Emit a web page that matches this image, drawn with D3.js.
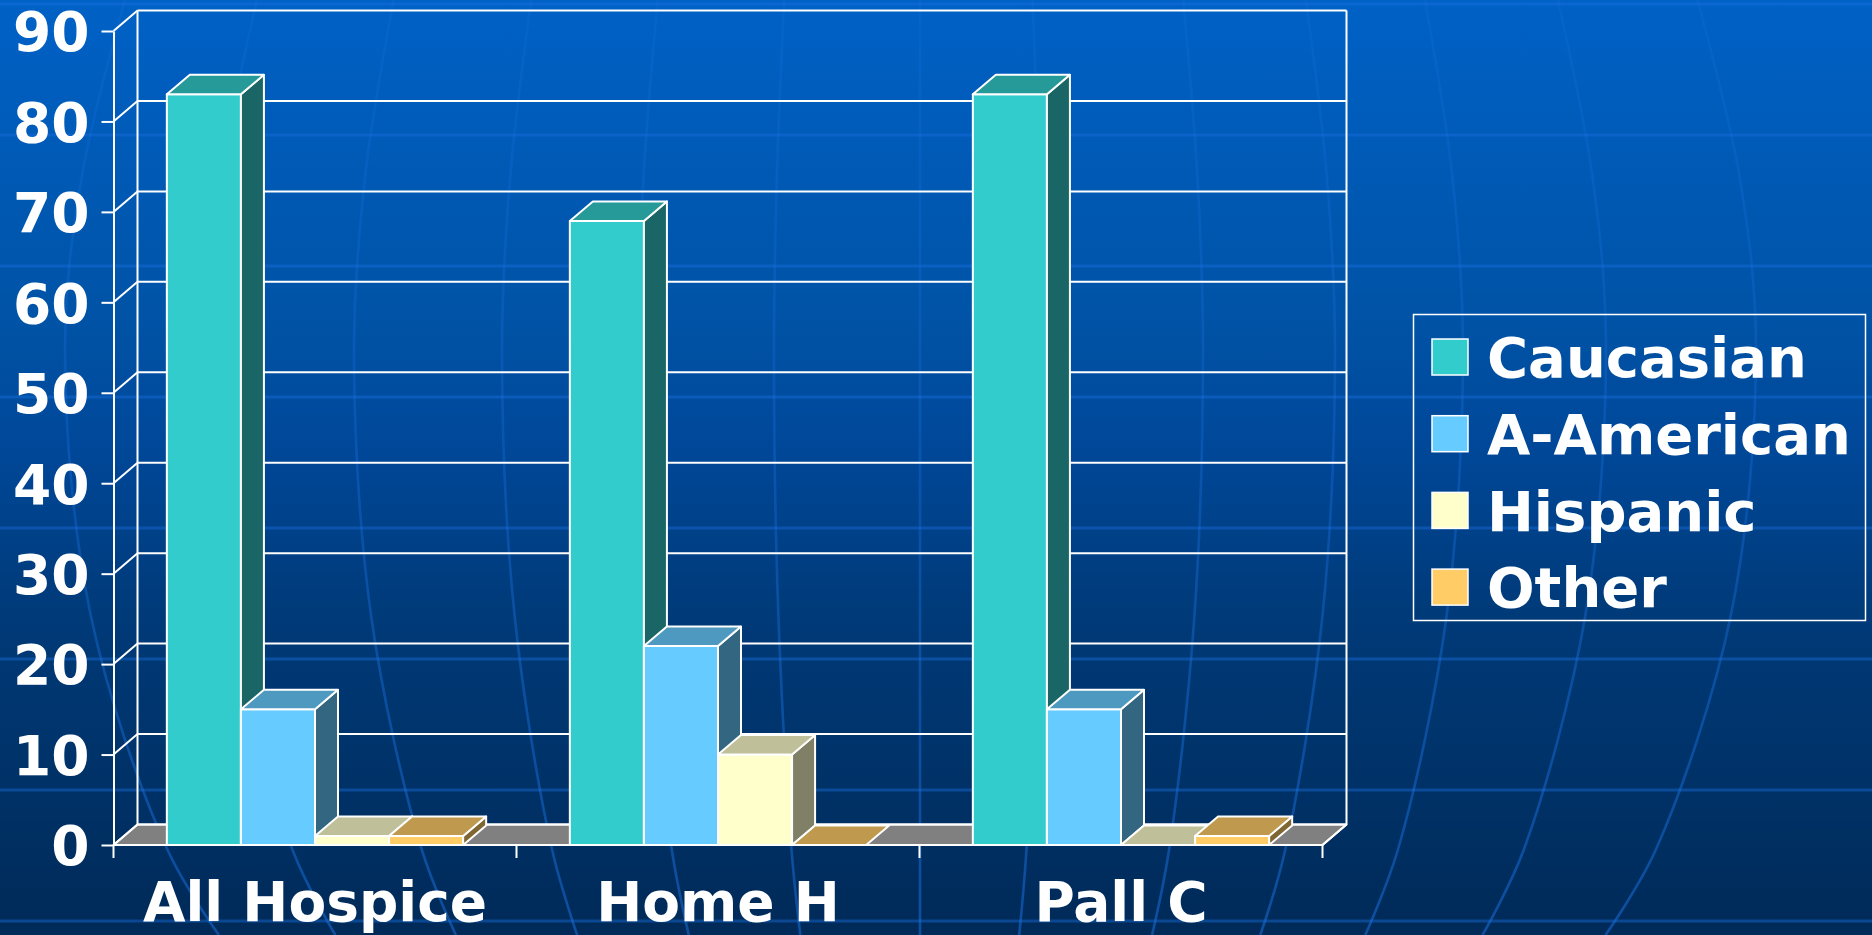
<!DOCTYPE html>
<html>
<head>
<meta charset="utf-8">
<script src="https://cdn.jsdelivr.net/npm/d3@7"></script>
<style>
  html, body { margin: 0; padding: 0; overflow: hidden; background: #003a78; }
  svg { display: block; }
  text { font-family: "DejaVu Sans", Verdana, sans-serif; font-weight: bold; fill: #ffffff; }
</style>
</head>
<body>
<svg id="chart" width="1872" height="935"></svg>
<script>
// ---- data ----
const categories = ["All Hospice", "Home H", "Pall C"];
const seriesNames = ["Caucasian", "A-American", "Hispanic", "Other"];
const caucasian = [83, 69, 83];
const aAmerican = [15, 22, 15];
const hispanic = [1, 10, 0];
const other = [1, 0, 1];
const yTicks = [0, 10, 20, 30, 40, 50, 60, 70, 80, 90];

// ---- styling ----
const seriesValues = [caucasian, aAmerican, hispanic, other];
const seriesColors = ["#33CCCC", "#66CCFF", "#FFFFCC", "#FFCC66"];

// background globe pattern (decoration)
const bandLineY = [4, 135, 266, 397, 528, 659, 790, 921];
const meridianOffsets = [-855, -713, -566, -418, -282, -146, 0, 121, 283, 415, 543, 686, 836];
const meridianProfile = [[0, 0.93], [175, 0.98], [350, 1.0], [615, 0.97], [850, 0.88], [935, 0.82]];
const meridianCenter = 920;

const W = 1872, H = 935;
const svg = d3.select("#chart");
const defs = svg.append("defs");
const grad = defs.append("linearGradient").attr("id", "bg")
  .attr("x1", 0).attr("y1", 0).attr("x2", 0).attr("y2", 1);
[[0, "#0061c6"], [0.34, "#0053a6"], [0.47, "#00489a"], [0.66, "#003a78"], [1, "#002a58"]]
  .forEach(([o, c]) => grad.append("stop").attr("offset", o).attr("stop-color", c));

const mGrad = defs.append("linearGradient").attr("id", "meridianStroke")
  .attr("gradientUnits", "userSpaceOnUse").attr("x1", 0).attr("y1", 0).attr("x2", 0).attr("y2", H);
[[0, 0.2], [0.45, 0.32], [1, 0.52]]
  .forEach(([o, a]) => mGrad.append("stop").attr("offset", o).attr("stop-color", "#1a70e0").attr("stop-opacity", a));

svg.append("rect").attr("width", W).attr("height", H).attr("fill", "url(#bg)");

const bgLines = svg.append("g");
bgLines.selectAll("line").data(bandLineY).join("line")
  .attr("x1", 0).attr("x2", W).attr("y1", d => d).attr("y2", d => d)
  .attr("stroke", "#1a70e0").attr("stroke-opacity", 0.42).attr("stroke-width", 3);

const meridian = d3.line().curve(d3.curveCatmullRom);
bgLines.selectAll("path").data(meridianOffsets).join("path")
  .attr("d", off => meridian(meridianProfile.map(([py, f]) => [meridianCenter + off * f, py])))
  .attr("fill", "none").attr("stroke", "url(#meridianStroke)").attr("stroke-width", 2.6);

// ---- scales ----
const y = d3.scaleLinear().domain([0, 90]).range([845, 31]);
const x0 = d3.scaleBand().domain(categories).range([113.5, 1322.5]);
const x1 = d3.scaleBand().domain(seriesNames).range([0, x0.bandwidth()]).paddingOuter(0.72);

const DX = 24, DY = -20.5;          // depth of the plot box
const BDX = 23, BDY = -19.5;        // depth of a bar
const left = x0.range()[0], right = x0.range()[1];

const wall = svg.append("g").attr("stroke", "#ffffff").attr("stroke-width", 2).attr("fill", "none");

// floor
wall.append("path")
  .attr("d", `M${left},${y(0)} L${right},${y(0)} L${right + DX},${y(0) + DY} L${left + DX},${y(0) + DY} Z`)
  .attr("fill", "#808080").attr("stroke-linejoin", "round");

// back wall gridlines + side wall lines
yTicks.forEach(v => {
  wall.append("line").attr("x1", left).attr("y1", y(v)).attr("x2", left + DX).attr("y2", y(v) + DY);
  wall.append("line").attr("x1", left + DX).attr("y1", y(v) + DY).attr("x2", right + DX).attr("y2", y(v) + DY);
});
wall.append("line").attr("x1", left + DX).attr("x2", left + DX).attr("y1", y(0) + DY).attr("y2", y(90) + DY);
wall.append("line").attr("x1", right + DX).attr("x2", right + DX).attr("y1", y(0) + DY).attr("y2", y(90) + DY);

// ---- bars ----
const shade = (c, k) => { const o = d3.rgb(c); return d3.rgb(o.r * k, o.g * k, o.b * k).formatHex(); };
const barsG = svg.append("g").attr("stroke", "#ffffff").attr("stroke-width", 2).attr("stroke-linejoin", "round");

categories.forEach((cat, ci) => {
  seriesNames.forEach((s, si) => {
    const v = seriesValues[si][ci];
    const xl = x0(cat) + x1(s), xr = xl + x1.bandwidth();
    const yt = y(v), yb = y(0);
    const col = seriesColors[si];
    const g = barsG.append("g");
    if (v > 0) {
      g.append("rect").attr("x", xl).attr("y", yt).attr("width", xr - xl).attr("height", yb - yt).attr("fill", col);
      g.append("path").attr("fill", shade(col, 0.5))
        .attr("d", `M${xr},${yt} L${xr + BDX},${yt + BDY} L${xr + BDX},${yb + BDY} L${xr},${yb} Z`);
    }
    g.append("path").attr("fill", shade(col, 0.75))
      .attr("d", `M${xl},${yt} L${xr},${yt} L${xr + BDX},${yt + BDY} L${xl + BDX},${yt + BDY} Z`);
  });
});

// ---- axes ----
const yAxis = svg.append("g").attr("transform", `translate(${left},0)`)
  .call(d3.axisLeft(y).tickValues(yTicks).tickSize(12).tickSizeOuter(0).tickPadding(12));
yAxis.attr("font-family", null);
yAxis.select(".domain").attr("stroke", "#ffffff").attr("stroke-width", 2);
yAxis.selectAll(".tick line").attr("stroke", "#ffffff").attr("stroke-width", 2);
yAxis.selectAll(".tick text").attr("font-size", 55).attr("fill", "#ffffff").attr("dy", "0.36em");

// front floor edge and category separators
const xEdge = svg.append("g").attr("stroke", "#ffffff").attr("stroke-width", 2);
xEdge.append("line").attr("x1", left).attr("x2", right).attr("y1", y(0)).attr("y2", y(0));
xEdge.append("line").attr("x1", right).attr("y1", y(0)).attr("x2", right + DX).attr("y2", y(0) + DY);
categories.map(c => x0(c)).concat([right]).forEach(xx => {
  xEdge.append("line").attr("x1", xx).attr("x2", xx).attr("y1", y(0)).attr("y2", y(0) + 13);
});

const xAxis = svg.append("g").attr("transform", `translate(0,${y(0)})`)
  .call(d3.axisBottom(x0).tickSize(0).tickPadding(0));
xAxis.select(".domain").remove();
xAxis.attr("font-family", null);
xAxis.selectAll(".tick text").attr("font-size", 55).attr("fill", "#ffffff")
  .attr("y", 76).attr("dy", 0);

// ---- legend ----
const legend = svg.append("g");
legend.append("rect").attr("x", 1413.5).attr("y", 314.5).attr("width", 452).attr("height", 306)
  .attr("fill", "none").attr("stroke", "#ffffff").attr("stroke-width", 1.5);
const items = legend.selectAll("g.item").data(seriesNames).join("g").attr("class", "item")
  .attr("transform", (d, i) => `translate(1432,${357 + i * 76.7})`);
items.append("rect").attr("x", 0).attr("y", -18).attr("width", 36).attr("height", 36)
  .attr("fill", (d, i) => seriesColors[i]).attr("stroke", "#ffffff").attr("stroke-width", 1.5);
items.append("text").attr("x", 55).attr("y", 0).attr("dy", "0.36em").attr("font-size", 56).text(d => d);
</script>
</body>
</html>
